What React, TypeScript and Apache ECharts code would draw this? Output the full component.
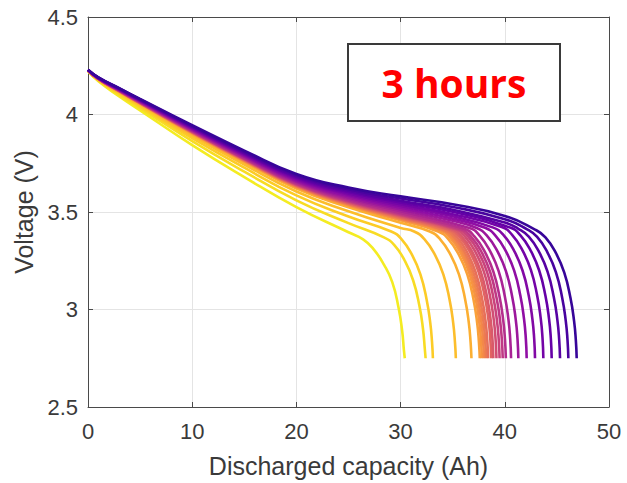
import { useEffect, useRef } from "react";
import * as echarts from "echarts";

// Axis ranges and ticks
const capacityTicks = [0, 10, 20, 30, 40, 50];
const voltageTicks = [2.5, 3, 3.5, 4, 4.5];

// End-of-discharge capacity (Ah) of each cycle, lowest first
const endCapacities = [
  30.4, 32.4, 33.1, 35.3, 36.8, 37.6, 37.8, 38.0, 38.2, 38.4, 38.7, 38.9, 39.2,
  39.5, 39.8, 40.1, 40.6, 41.3, 42.1, 42.9, 43.7, 44.5, 45.3, 46.1, 46.9,
];

// Discharge curves: [capacity (Ah), voltage (V)] — same order as endCapacities
const dischargeCurves: number[][][] = [
  [[0, 4.222], [1, 4.170], [3, 4.093], [5, 4.021], [10, 3.843], [15, 3.679], [20, 3.525], [25, 3.396],
   [26.4, 3.36], [27.4, 3.31], [28.4, 3.23], [29.2, 3.14], [29.8, 3.01], [30.15, 2.89], [30.32, 2.79], [30.4, 2.75]],
  [[0, 4.223], [1, 4.174], [3, 4.101], [5, 4.033], [10, 3.864], [15, 3.707], [20, 3.560], [25, 3.443],
   [28.4, 3.37], [29.4, 3.33], [30.4, 3.25], [31.2, 3.15], [31.8, 3.02], [32.15, 2.90], [32.32, 2.80], [32.4, 2.75]],
  [[0, 4.225], [1, 4.177], [3, 4.108], [5, 4.042], [10, 3.879], [15, 3.727], [20, 3.585], [25, 3.477],
   [29.1, 3.40], [30.1, 3.36], [31.1, 3.28], [31.9, 3.18], [32.5, 3.05], [32.85, 2.93], [33.02, 2.83], [33.1, 2.75]],
  [[0, 4.226], [1, 4.179], [3, 4.113], [5, 4.049], [10, 3.891], [15, 3.743], [20, 3.605], [25, 3.504], [30, 3.418],
   [31.3, 3.40], [32.3, 3.36], [33.3, 3.28], [34.1, 3.18], [34.7, 3.05], [35.05, 2.93], [35.22, 2.83], [35.3, 2.75]],
  [[0, 4.226], [1, 4.181], [3, 4.116], [5, 4.054], [10, 3.900], [15, 3.755], [20, 3.620], [25, 3.524], [30, 3.445],
   [32.8, 3.40], [33.8, 3.36], [34.8, 3.28], [35.6, 3.18], [36.2, 3.05], [36.55, 2.93], [36.72, 2.83], [36.8, 2.75]],
  [[0, 4.227], [1, 4.182], [3, 4.118], [5, 4.056], [10, 3.904], [15, 3.761], [20, 3.627], [25, 3.533], [30, 3.458],
   [33.6, 3.40], [34.6, 3.36], [35.6, 3.28], [36.4, 3.18], [37.0, 3.05], [37.35, 2.93], [37.52, 2.83], [37.6, 2.75]],
  [[0, 4.227], [1, 4.182], [3, 4.119], [5, 4.057], [10, 3.905], [15, 3.762], [20, 3.629], [25, 3.536], [30, 3.461],
   [33.8, 3.406], [34.8, 3.366], [35.8, 3.286], [36.6, 3.186], [37.2, 3.056], [37.55, 2.936], [37.72, 2.836], [37.8, 2.75]],
  [[0, 4.227], [1, 4.182], [3, 4.119], [5, 4.058], [10, 3.907], [15, 3.764], [20, 3.631], [25, 3.539], [30, 3.465],
   [34.0, 3.407], [35.0, 3.367], [36.0, 3.287], [36.8, 3.187], [37.4, 3.057], [37.75, 2.937], [37.92, 2.837], [38.0, 2.75]],
  [[0, 4.227], [1, 4.183], [3, 4.120], [5, 4.058], [10, 3.908], [15, 3.765], [20, 3.633], [25, 3.541], [30, 3.468],
   [34.2, 3.408], [35.2, 3.368], [36.2, 3.288], [37.0, 3.188], [37.6, 3.058], [37.95, 2.938], [38.12, 2.838], [38.2, 2.75]],
  [[0, 4.227], [1, 4.183], [3, 4.120], [5, 4.059], [10, 3.909], [15, 3.767], [20, 3.635], [25, 3.544], [30, 3.472],
   [34.4, 3.411], [35.4, 3.371], [36.4, 3.291], [37.2, 3.191], [37.8, 3.061], [38.15, 2.941], [38.32, 2.841], [38.4, 2.75]],
  [[0, 4.227], [1, 4.183], [3, 4.121], [5, 4.060], [10, 3.910], [15, 3.769], [20, 3.637], [25, 3.547], [30, 3.476],
   [34.7, 3.410], [35.7, 3.370], [36.7, 3.290], [37.5, 3.190], [38.1, 3.060], [38.45, 2.940], [38.62, 2.840], [38.7, 2.75]],
  [[0, 4.227], [1, 4.183], [3, 4.121], [5, 4.060], [10, 3.911], [15, 3.770], [20, 3.639], [25, 3.549], [30, 3.479],
   [34.9, 3.413], [35.9, 3.373], [36.9, 3.293], [37.7, 3.193], [38.3, 3.063], [38.65, 2.943], [38.82, 2.843], [38.9, 2.75]],
  [[0, 4.227], [1, 4.184], [3, 4.122], [5, 4.061], [10, 3.913], [15, 3.772], [20, 3.641], [25, 3.552], [30, 3.483],
   [35.2, 3.413], [36.2, 3.373], [37.2, 3.293], [38.0, 3.193], [38.6, 3.063], [38.95, 2.943], [39.12, 2.843], [39.2, 2.75]],
  [[0, 4.227], [1, 4.184], [3, 4.122], [5, 4.062], [10, 3.914], [15, 3.773], [20, 3.643], [25, 3.555], [30, 3.486],
   [35.5, 3.412], [36.5, 3.372], [37.5, 3.292], [38.3, 3.192], [38.9, 3.062], [39.25, 2.942], [39.42, 2.842], [39.5, 2.75]],
  [[0, 4.228], [1, 4.184], [3, 4.123], [5, 4.063], [10, 3.915], [15, 3.775], [20, 3.645], [25, 3.558], [30, 3.490],
   [35.8, 3.411], [36.8, 3.371], [37.8, 3.291], [38.6, 3.191], [39.2, 3.061], [39.55, 2.941], [39.72, 2.841], [39.8, 2.75]],
  [[0, 4.228], [1, 4.184], [3, 4.123], [5, 4.064], [10, 3.917], [15, 3.777], [20, 3.648], [25, 3.562], [30, 3.495],
   [36.1, 3.414], [37.1, 3.374], [38.1, 3.294], [38.9, 3.194], [39.5, 3.064], [39.85, 2.944], [40.02, 2.844], [40.1, 2.75]],
  [[0, 4.228], [1, 4.185], [3, 4.125], [5, 4.065], [10, 3.920], [15, 3.781], [20, 3.653], [25, 3.568], [30, 3.504],
   [36.6, 3.418], [37.6, 3.378], [38.6, 3.298], [39.4, 3.198], [40.0, 3.068], [40.35, 2.948], [40.52, 2.848], [40.6, 2.75]],
  [[0, 4.228], [1, 4.186], [3, 4.126], [5, 4.067], [10, 3.923], [15, 3.785], [20, 3.658], [25, 3.575], [30, 3.513], [35, 3.455],
   [37.3, 3.418], [38.3, 3.378], [39.3, 3.298], [40.1, 3.198], [40.7, 3.068], [41.05, 2.948], [41.22, 2.848], [41.3, 2.75]],
  [[0, 4.228], [1, 4.186], [3, 4.127], [5, 4.069], [10, 3.926], [15, 3.789], [20, 3.663], [25, 3.582], [30, 3.522], [35, 3.466],
   [38.1, 3.419], [39.1, 3.379], [40.1, 3.299], [40.9, 3.199], [41.5, 3.069], [41.85, 2.949], [42.02, 2.849], [42.1, 2.75]],
  [[0, 4.229], [1, 4.187], [3, 4.128], [5, 4.071], [10, 3.929], [15, 3.793], [20, 3.668], [25, 3.589], [30, 3.531], [35, 3.478],
   [38.9, 3.420], [39.9, 3.380], [40.9, 3.300], [41.7, 3.200], [42.3, 3.070], [42.65, 2.950], [42.82, 2.850], [42.9, 2.75]],
  [[0, 4.229], [1, 4.187], [3, 4.130], [5, 4.072], [10, 3.932], [15, 3.797], [20, 3.673], [25, 3.595], [30, 3.540], [35, 3.489],
   [39.7, 3.423], [40.7, 3.383], [41.7, 3.303], [42.5, 3.203], [43.1, 3.073], [43.45, 2.953], [43.62, 2.853], [43.7, 2.75]],
  [[0, 4.229], [1, 4.188], [3, 4.131], [5, 4.074], [10, 3.935], [15, 3.801], [20, 3.678], [25, 3.602], [30, 3.549], [35, 3.501],
   [40.5, 3.420], [41.5, 3.380], [42.5, 3.300], [43.3, 3.200], [43.9, 3.070], [44.25, 2.950], [44.42, 2.850], [44.5, 2.75]],
  [[0, 4.229], [1, 4.189], [3, 4.132], [5, 4.076], [10, 3.938], [15, 3.805], [20, 3.683], [25, 3.609], [30, 3.558], [35, 3.512], [40, 3.446],
   [41.3, 3.414], [42.3, 3.374], [43.3, 3.294], [44.1, 3.194], [44.7, 3.064], [45.05, 2.944], [45.22, 2.844], [45.3, 2.75]],
  [[0, 4.23], [1, 4.189], [3, 4.134], [5, 4.078], [10, 3.941], [15, 3.810], [20, 3.689], [25, 3.617], [30, 3.569], [35, 3.526], [40, 3.463],
   [42.1, 3.412], [43.1, 3.372], [44.1, 3.292], [44.9, 3.192], [45.5, 3.062], [45.85, 2.942], [46.02, 2.842], [46.1, 2.75]],
  [[0, 4.23], [1, 4.19], [3, 4.135], [5, 4.08], [10, 3.945], [15, 3.815], [20, 3.695], [25, 3.625], [30, 3.58], [35, 3.54], [40, 3.48],
   [42.9, 3.41], [43.9, 3.37], [44.9, 3.29], [45.7, 3.19], [46.3, 3.06], [46.65, 2.94], [46.82, 2.84], [46.9, 2.75]],
];

// Plasma colormap stops (dark purple -> yellow)
const plasmaStops = [
  "#0d0887", "#41049d", "#6a00a8", "#8f0da4", "#b12a90", "#cc4778",
  "#e16462", "#f2844b", "#fca636", "#fcce25", "#f0f921",
];

function hexToRgb(h: string) {
  const n = parseInt(h.slice(1), 16);
  return [(n >> 16) & 255, (n >> 8) & 255, n & 255];
}

function plasma(t: number) {
  const p = Math.min(Math.max(t, 0), 1) * (plasmaStops.length - 1);
  const i = Math.min(Math.floor(p), plasmaStops.length - 2);
  const f = p - i;
  const a = hexToRgb(plasmaStops[i]);
  const b = hexToRgb(plasmaStops[i + 1]);
  const c = a.map((v, k) => Math.round(v + (b[k] - v) * f));
  return `rgb(${c[0]},${c[1]},${c[2]})`;
}

const FONT = '"Liberation Sans", Arial, Helvetica, sans-serif';
const AXIS_COLOR = "#4a4a4a";
const TEXT_COLOR = "#3a3a3a";

export default function App() {
  const ref = useRef<HTMLDivElement>(null);

  useEffect(() => {
    if (!ref.current) return;
    const chart = echarts.init(ref.current, undefined, { renderer: "svg" });
    const n = endCapacities.length;

    const series = dischargeCurves.map((pts, i) => ({
      type: "line" as const,
      name: `${endCapacities[i]} Ah`,
      data: pts,
      showSymbol: false,
      smooth: 0.5,
      lineStyle: { width: 2.6, color: plasma(0.97 - (i * 0.89) / (n - 1)) },
      itemStyle: { color: plasma(0.97 - (i * 0.89) / (n - 1)) },
      emphasis: { disabled: true },
      z: 2,
    }));

    const boxAxisLine = { show: true, onZero: false, lineStyle: { color: AXIS_COLOR, width: 1 } };
    const boxTick = { show: true, inside: true, length: 5, lineStyle: { color: AXIS_COLOR, width: 1 } };

    chart.setOption({
      animation: false,
      backgroundColor: "#ffffff",
      grid: { left: 88, right: 18, top: 17, bottom: 72, containLabel: false },
      xAxis: [
        {
          type: "value",
          min: capacityTicks[0],
          max: capacityTicks[capacityTicks.length - 1],
          interval: 10,
          position: "bottom",
          name: "Discharged capacity (Ah)",
          nameLocation: "middle",
          nameGap: 46,
          nameTextStyle: { fontSize: 25, color: TEXT_COLOR, fontFamily: FONT },
          axisLine: boxAxisLine,
          axisTick: boxTick,
          axisLabel: { fontSize: 22, color: TEXT_COLOR, margin: 13, fontFamily: FONT },
          splitLine: { show: true, lineStyle: { color: "#e4e4e4", width: 1 } },
        },
        {
          type: "value",
          min: capacityTicks[0],
          max: capacityTicks[capacityTicks.length - 1],
          interval: 10,
          position: "top",
          axisLine: boxAxisLine,
          axisTick: boxTick,
          axisLabel: { show: false },
          splitLine: { show: false },
        },
      ],
      yAxis: [
        {
          type: "value",
          min: voltageTicks[0],
          max: voltageTicks[voltageTicks.length - 1],
          interval: 0.5,
          position: "left",
          name: "Voltage (V)",
          nameLocation: "middle",
          nameGap: 52,
          nameTextStyle: { fontSize: 25, color: TEXT_COLOR, fontFamily: FONT },
          axisLine: boxAxisLine,
          axisTick: boxTick,
          axisLabel: { fontSize: 22, color: TEXT_COLOR, margin: 10, fontFamily: FONT },
          splitLine: { show: true, lineStyle: { color: "#e4e4e4", width: 1 } },
        },
        {
          type: "value",
          min: voltageTicks[0],
          max: voltageTicks[voltageTicks.length - 1],
          interval: 0.5,
          position: "right",
          axisLine: boxAxisLine,
          axisTick: boxTick,
          axisLabel: { show: false },
          splitLine: { show: false },
        },
      ],
      series,
      graphic: [
        {
          type: "rect",
          shape: { x: 348, y: 44, width: 212, height: 77 },
          style: { fill: "#ffffff", stroke: "#3a3a3a", lineWidth: 2 },
          z: 100,
        },
        {
          type: "text",
          x: 454,
          y: 82,
          style: {
            text: "3 hours",
            fill: "#ff0000",
            font: 'bold 39px "Open Sans", sans-serif',
            align: "center",
            verticalAlign: "middle",
            textAlign: "center",
            textVerticalAlign: "middle",
          },
          z: 101,
        },
      ],
    });

    return () => chart.dispose();
  }, []);

  return (
    <div
      ref={ref}
      style={{ position: "fixed", left: 0, top: 0, width: 627, height: 483, background: "#fff" }}
    />
  );
}
